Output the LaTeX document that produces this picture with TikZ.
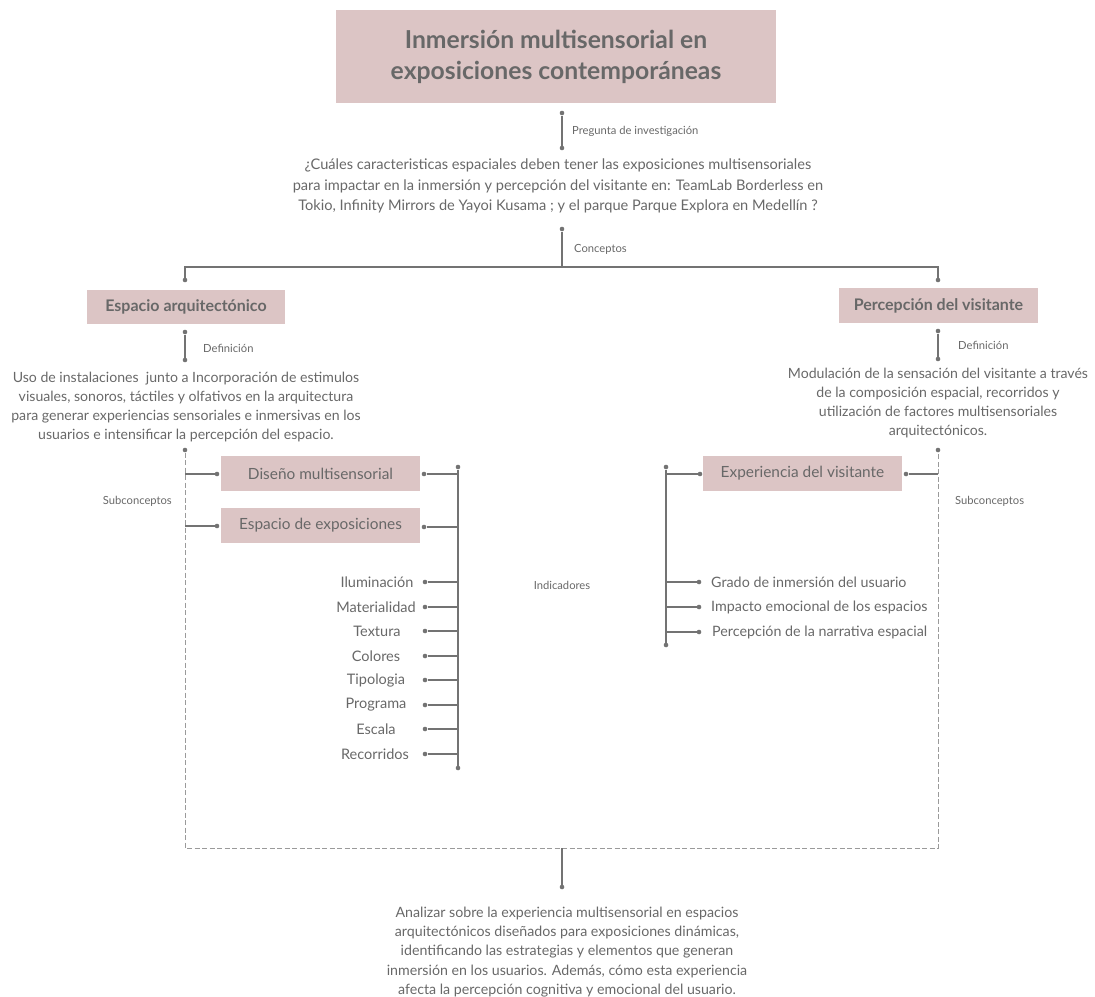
\documentclass[tikz,border=0pt]{standalone}
\usepackage{fontspec}
\setmainfont{Lato}
\definecolor{boxfill}{HTML}{DCC5C5}
\definecolor{ln}{HTML}{737373}
\definecolor{tx}{HTML}{686868}
\definecolor{dsh}{HTML}{9A9A9A}
\tikzset{
  box/.style={fill=boxfill, inner sep=0pt, text=tx},
  conn/.style={draw=ln, line width=1.3pt},
  dashconn/.style={draw=dsh, line width=1pt, dash pattern=on 5pt off 2.5pt},
  pt/.style={circle, fill=ln, inner sep=0pt, minimum size=4.6pt},
  small/.style={text=tx, font=\fontsize{11.2}{13}\selectfont, inner sep=0pt},
  body/.style={text=tx, align=center, inner sep=0pt},
  ind/.style={text=tx, font=\fontsize{14.5}{16}\selectfont, inner sep=0pt},
}
\begin{document}
\begin{tikzpicture}[x=1pt,y=-1pt]
\useasboundingbox (0,0) rectangle (1095,996);

% Title
\node[box, minimum width=440pt, minimum height=93pt, align=center,
  font=\fontsize{24.7}{31}\selectfont\bfseries] (title) at (556,56.5)
  {Inmersión multisensorial en\\exposiciones contemporáneas};

% Pregunta
\node[pt] (q1) at (562,113) {};
\node[pt] (q2) at (562,148) {};
\draw[conn] (q1) -- (q2);
\node[small, anchor=west] (lq) at (572,131) {Pregunta de investigación};
\node[body, font=\fontsize{14.6}{20.5}\selectfont] (preg) at (558,186)
  {¿Cuáles caracteristicas espaciales deben tener las exposiciones multisensoriales\\
   para impactar en la inmersión y percepción del visitante en: TeamLab Borderless en\\
   Tokio, Infinity Mirrors de Yayoi Kusama ; y el parque Parque Explora en Medellín ?};

% Conceptos
\node[pt] (c1) at (562,229) {};
\coordinate (c2) at (562,267);
\draw[conn] (c1) -- (c2);
\node[small, anchor=west] (lc) at (574,249) {Conceptos};
\coordinate (hl) at (185,267);
\coordinate (hr) at (938,267);
\node[pt] (dl) at (185,280) {};
\node[pt] (dr) at (938,280) {};
\draw[conn] (dl) -- (hl) -- (hr) -- (dr);

% Concept boxes
\node[box, minimum width=198pt, minimum height=34pt, font=\fontsize{16}{18}\selectfont\bfseries] (ea) at (186,307) {Espacio arquitectónico};
\node[box, minimum width=199pt, minimum height=35pt, font=\fontsize{16}{18}\selectfont\bfseries] (pv) at (938.5,305.5) {Percepción del visitante};

% Definiciones
\node[pt] (dl1) at (185,332) {};
\node[pt] (dl2) at (185,360) {};
\draw[conn] (dl1) -- (dl2);
\node[small, anchor=west] (ldl) at (203,348) {Definición};
\node[pt] (dr1) at (938,331) {};
\node[pt] (dr2) at (938,359) {};
\draw[conn] (dr1) -- (dr2);
\node[small, anchor=west] (ldr) at (958,345) {Definición};

\node[body, font=\fontsize{14.1}{19}\selectfont] (defl) at (186,407.5)
  {Uso de instalaciones \ junto a Incorporación de estimulos\\
   visuales, sonoros, táctiles y olfativos en la arquitectura\\
   para generar experiencias sensoriales e inmersivas en los\\
   usuarios e intensificar la percepción del espacio.};
\node[body, font=\fontsize{14.1}{18.7}\selectfont] (defr) at (938,403)
  {Modulación de la sensación del visitante a través\\
   de la composición espacial, recorridos y\\
   utilización de factores multisensoriales\\
   arquitectónicos.};

% Dashed frame
\node[pt] (sl) at (185,450) {};
\node[pt] (sr) at (938,450) {};
\coordinate (bl) at (185,848);
\coordinate (br) at (938,848);
\coordinate (bm) at (562,848);
\draw[dashconn] (sl) -- (bl) -- (br) -- (sr);
\node[small, anchor=east] (lsl) at (172,501) {Subconceptos};
\node[small, anchor=west] (lsr) at (955,501) {Subconceptos};

% Left subconcepts
\node[box, minimum width=199pt, minimum height=35pt, font=\fontsize{15.4}{17}\selectfont] (dm) at (320.5,473.5) {Diseño multisensorial};
\node[box, minimum width=199pt, minimum height=35pt, font=\fontsize{15.4}{17}\selectfont] (ex) at (320.5,525.5) {Espacio de exposiciones};
\coordinate (a1) at (185,474);
\coordinate (a2) at (185,526);
\node[pt] (b1) at (217,474) {};
\node[pt] (b2) at (217,526) {};
\draw[conn, line width=1.1pt] (a1) -- (b1);
\draw[conn, line width=1.1pt] (a2) -- (b2);
\node[pt] (r1) at (424,474) {};
\node[pt] (r2) at (424,527) {};
\node[pt] (vt) at (458,467) {};
\node[pt] (vb) at (458,768) {};
\draw[conn] (vt) -- (vb);
\draw[conn, line width=1.1pt] (r1) -- (r1 -| vt);
\draw[conn, line width=1.1pt] (r2) -- (r2 -| vt);

% Indicators left
\foreach \y [count=\i] in {582,607,631,656,680,705,729,754}{
  \node[pt] (il\i) at (425,\y) {};
  \draw[conn, line width=1.1pt] (il\i) -- (il\i -| vt);
}
\node[ind] (tl1) at (377,582) {Iluminación};
\node[ind] (tl2) at (376,607) {Materialidad};
\node[ind] (tl3) at (377,631) {Textura};
\node[ind] (tl4) at (376,656) {Colores};
\node[ind] (tl5) at (376,680) {Tipologia};
\node[ind] (tl6) at (376,705) {Programa};
\node[ind] (tl7) at (376,729) {Escala};
\node[ind] (tl8) at (375,754) {Recorridos};
\node[small] (lind) at (562,585) {Indicadores};

% Right subconcepts
\node[pt] (wt) at (666,467) {};
\node[pt] (wb) at (666,645) {};
\draw[conn] (wt) -- (wb);
\node[box, minimum width=199pt, minimum height=35pt, font=\fontsize{15.4}{17}\selectfont] (ev) at (802.5,473.5) {Experiencia del visitante};
\node[pt] (e1) at (700,474) {};
\draw[conn, line width=1.1pt] (e1 -| wt) -- (e1);
\node[pt] (e2) at (906,474) {};
\coordinate (e3) at (938,474);
\draw[conn, line width=1.1pt] (e2) -- (e3);
\node[pt] (ir1) at (699,582) {};
\node[pt] (ir2) at (699,607) {};
\node[pt] (ir3) at (699,632) {};
\draw[conn, line width=1.1pt] (ir1 -| wt) -- (ir1);
\draw[conn, line width=1.1pt] (ir2 -| wt) -- (ir2);
\draw[conn, line width=1.1pt] (ir3 -| wt) -- (ir3);
\node[ind, anchor=west, font=\fontsize{14.3}{16}\selectfont] (tr1) at (711,582) {Grado de inmersión del usuario};
\node[ind, anchor=west, font=\fontsize{14.3}{16}\selectfont] (tr2) at (711,607) {Impacto emocional de los espacios};
\node[ind, anchor=west, font=\fontsize{14.3}{16}\selectfont] (tr3) at (712,632) {Percepción de la narrativa espacial};

% Bottom
\node[pt] (bd) at (562,887) {};
\draw[conn] (bm) -- (bd);
\node[body, font=\fontsize{14.2}{19.2}\selectfont] (concl) at (567,952)
  {Analizar sobre la experiencia multisensorial en espacios\\
   arquitectónicos diseñados para exposiciones dinámicas,\\
   identificando las estrategias y elementos que generan\\
   inmersión en los usuarios. Además, cómo esta experiencia\\
   afecta la percepción cognitiva y emocional del usuario.};
\end{tikzpicture}
\end{document}
